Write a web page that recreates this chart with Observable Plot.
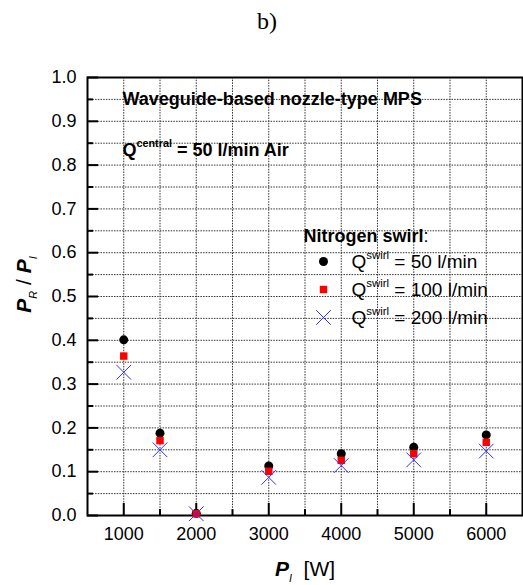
<!DOCTYPE html>
<html>
<head>
<meta charset="utf-8">
<script src="https://cdn.jsdelivr.net/npm/d3@7"></script>
<script src="https://cdn.jsdelivr.net/npm/@observablehq/plot@0.6"></script>
<style>
  body { margin: 0; background: white; }
  #title { position: relative; height: 40px; width: 523px; }
  #title span { position: absolute; left: 267px; top: 9px; transform: translateX(-50%);
    font-family: "Liberation Serif", "Times New Roman", serif; font-size: 24px; line-height: 24px; }
</style>
</head>
<body>
<div id="title"><span>b)</span></div>
<div id="chart"></div>
<script>
// ---- data ----
const powers = [1000, 1500, 2000, 3000, 4000, 5000, 6000];
const q50  = [0.401, 0.188, 0.005, 0.113, 0.141, 0.156, 0.184];
const q100 = [0.364, 0.171, 0.004, 0.101, 0.126, 0.141, 0.167];
const q200 = [0.327, 0.150, 0.004, 0.087, 0.114, 0.127, 0.147];
const seriesFlows = ["50", "100", "200"];

const xTicks = [1000, 2000, 3000, 4000, 5000, 6000];
const xMinor = [1500, 2500, 3500, 4500, 5500];
const xGrid = [1000, 1500, 2000, 2500, 3000, 3500, 4000, 4500, 5000, 5500, 6000];
const yTicks = [0.0, 0.1, 0.2, 0.3, 0.4, 0.5, 0.6, 0.7, 0.8, 0.9, 1.0];
const yMinor = [0.05, 0.15, 0.25, 0.35, 0.45, 0.55, 0.65, 0.75, 0.85, 0.95];
const yGrid = [0.05, 0.1, 0.15, 0.2, 0.25, 0.3, 0.35, 0.4, 0.45, 0.5, 0.55, 0.6, 0.65, 0.7, 0.75, 0.8, 0.85, 0.9, 0.95];

const titleText = "!{Waveguide-based nozzle-type MPS}";
const conditionText = "!{Q^{central} = 50 l/min Air}";
const legendTitle = "!{Nitrogen swirl}:";
const xLabel = "*{P}_{I}\u00a0 [W]";
const yLabel = "*{P}_{R} / *{P}_{I}";

// ---- styles ----
const seriesValues = [q50, q100, q200];
const seriesStyle = [
  {symbol: "circle", r: 4.5, fill: "black", stroke: "none", strokeWidth: 0},
  {symbol: "square", r: 4.2, fill: "#ff0000", stroke: "none", strokeWidth: 0},
  {symbol: "times", r: 6.7, fill: "none", stroke: "#3030ff", strokeWidth: 1}
];

const W = 523, H = 545, mT = 37, mB = 70, mL = 87, mR = 1;
const fw = W - mL - mR, fh = H - mT - mB;

const marks = [
  Plot.ruleX(xGrid, {x: d => d, stroke: "#333", strokeDasharray: "1.5,1.2", strokeWidth: 1}),
  Plot.ruleY(yGrid, {y: d => d, stroke: "#333", strokeDasharray: "1.5,1.2", strokeWidth: 1}),
  Plot.tickY(yTicks, {y: d => d, insetRight: fw - 11, stroke: "black", strokeWidth: 2}),
  Plot.tickY(yMinor, {y: d => d, insetRight: fw - 6, stroke: "black", strokeWidth: 2}),
  Plot.tickX(xTicks, {x: d => d, insetTop: fh - 12, stroke: "black", strokeWidth: 2}),
  Plot.tickX(xMinor, {x: d => d, insetTop: fh - 6, stroke: "black", strokeWidth: 2}),
  Plot.frame({stroke: "black", strokeWidth: 2}),
  Plot.axisY({ticks: yTicks, tickSize: 0, tickPadding: 11, tickFormat: d3.format(".1f"), label: null, fontSize: 18}),
  Plot.axisX({ticks: xTicks, tickSize: 0, tickPadding: 12, tickFormat: d3.format("d"), label: null, fontSize: 18})
];

seriesValues.forEach((vals, i) => {
  const s = seriesStyle[i];
  const rows = powers.map((p, j) => ({p, v: vals[j]}));
  marks.push(Plot.dot(rows, {x: "p", y: "v", symbol: s.symbol, r: s.r, fill: s.fill, stroke: s.stroke, strokeWidth: s.strokeWidth}));
});

// annotations
const rich = {textAnchor: "start", lineAnchor: "bottom", ariaLabel: "rich"};
marks.push(Plot.text([titleText], {...rich, frameAnchor: "top-left", dx: 35, dy: 27, fontSize: 18}));
marks.push(Plot.text([conditionText], {...rich, frameAnchor: "top-left", dx: 35, dy: 78, fontSize: 18}));
marks.push(Plot.text([legendTitle], {...rich, frameAnchor: "top-left", dx: 216, dy: 164, fontSize: 18}));
seriesFlows.forEach((f, i) => {
  const s = seriesStyle[i];
  marks.push(Plot.dot([f], {frameAnchor: "top-left", dx: 236, dy: 184 + i * 28, symbol: s.symbol, r: s.r, fill: s.fill, stroke: s.stroke, strokeWidth: s.strokeWidth}));
  marks.push(Plot.text([`Q^{swirl} = ${f} l/min`], {...rich, frameAnchor: "top-left", dx: 264, dy: 190.5 + i * 28, fontSize: 19}));
});
marks.push(Plot.text([xLabel], {...rich, frameAnchor: "bottom", dy: 60, textAnchor: "middle", fontSize: 21}));
marks.push(Plot.text([yLabel], {...rich, frameAnchor: "left", dx: -57, dy: -12, rotate: -90, textAnchor: "middle", fontSize: 21}));

const chart = Plot.plot({
  width: W, height: H,
  marginTop: mT, marginBottom: mB, marginLeft: mL, marginRight: mR,
  x: {domain: [500, 6500]},
  y: {domain: [0, 1]},
  style: {fontFamily: "'Liberation Sans', Arial, sans-serif", fontSize: "18px", color: "black", background: "white"},
  marks
});
document.getElementById("chart").appendChild(chart);

// rich-text formatting: ^{sup}, _{sub}, *{bold italic}, !{bold}
const NS = "http://www.w3.org/2000/svg";
function richify(textEl, fs) {
  const src = textEl.textContent;
  while (textEl.firstChild) textEl.removeChild(textEl.firstChild);
  let cur = 0;
  function emit(str, style) {
    if (!str) return;
    const t = document.createElementNS(NS, "tspan");
    const target = style.shift || 0;
    if (target !== cur) { t.setAttribute("dy", (target - cur).toFixed(2)); cur = target; }
    if (style.size) t.setAttribute("font-size", style.size.toFixed(1));
    if (style.weight) t.setAttribute("font-weight", style.weight);
    if (style.italic) t.setAttribute("font-style", "italic");
    t.textContent = str;
    textEl.appendChild(t);
  }
  function walk(str, inherit) {
    const re = /([\^_*!])\{((?:[^{}]|\{[^{}]*\})*)\}/g;
    let last = 0, m;
    while ((m = re.exec(str))) {
      emit(str.slice(last, m.index), inherit);
      const st = Object.assign({}, inherit);
      if (m[1] === "^") { st.shift = -0.5 * fs; st.size = 0.6 * fs; }
      else if (m[1] === "_") { st.shift = 0.32 * fs; st.size = 0.52 * fs; st.italic = true; st.weight = "normal"; }
      else if (m[1] === "*") { st.weight = "bold"; st.italic = true; }
      else if (m[1] === "!") { st.weight = "bold"; }
      walk(m[2], st);
      last = re.lastIndex;
    }
    emit(str.slice(last), inherit);
  }
  walk(src, {shift: 0});
}
d3.select(chart).selectAll("text").each(function () {
  const txt = this.textContent;
  if (!/[\^_*!]\{/.test(txt)) return;
  let fs = +this.getAttribute("font-size");
  if (!fs) fs = +this.parentNode.getAttribute("font-size");
  if (!fs) fs = parseFloat(getComputedStyle(this).fontSize) || 18;
  richify(this, fs);
});
</script>
</body>
</html>
